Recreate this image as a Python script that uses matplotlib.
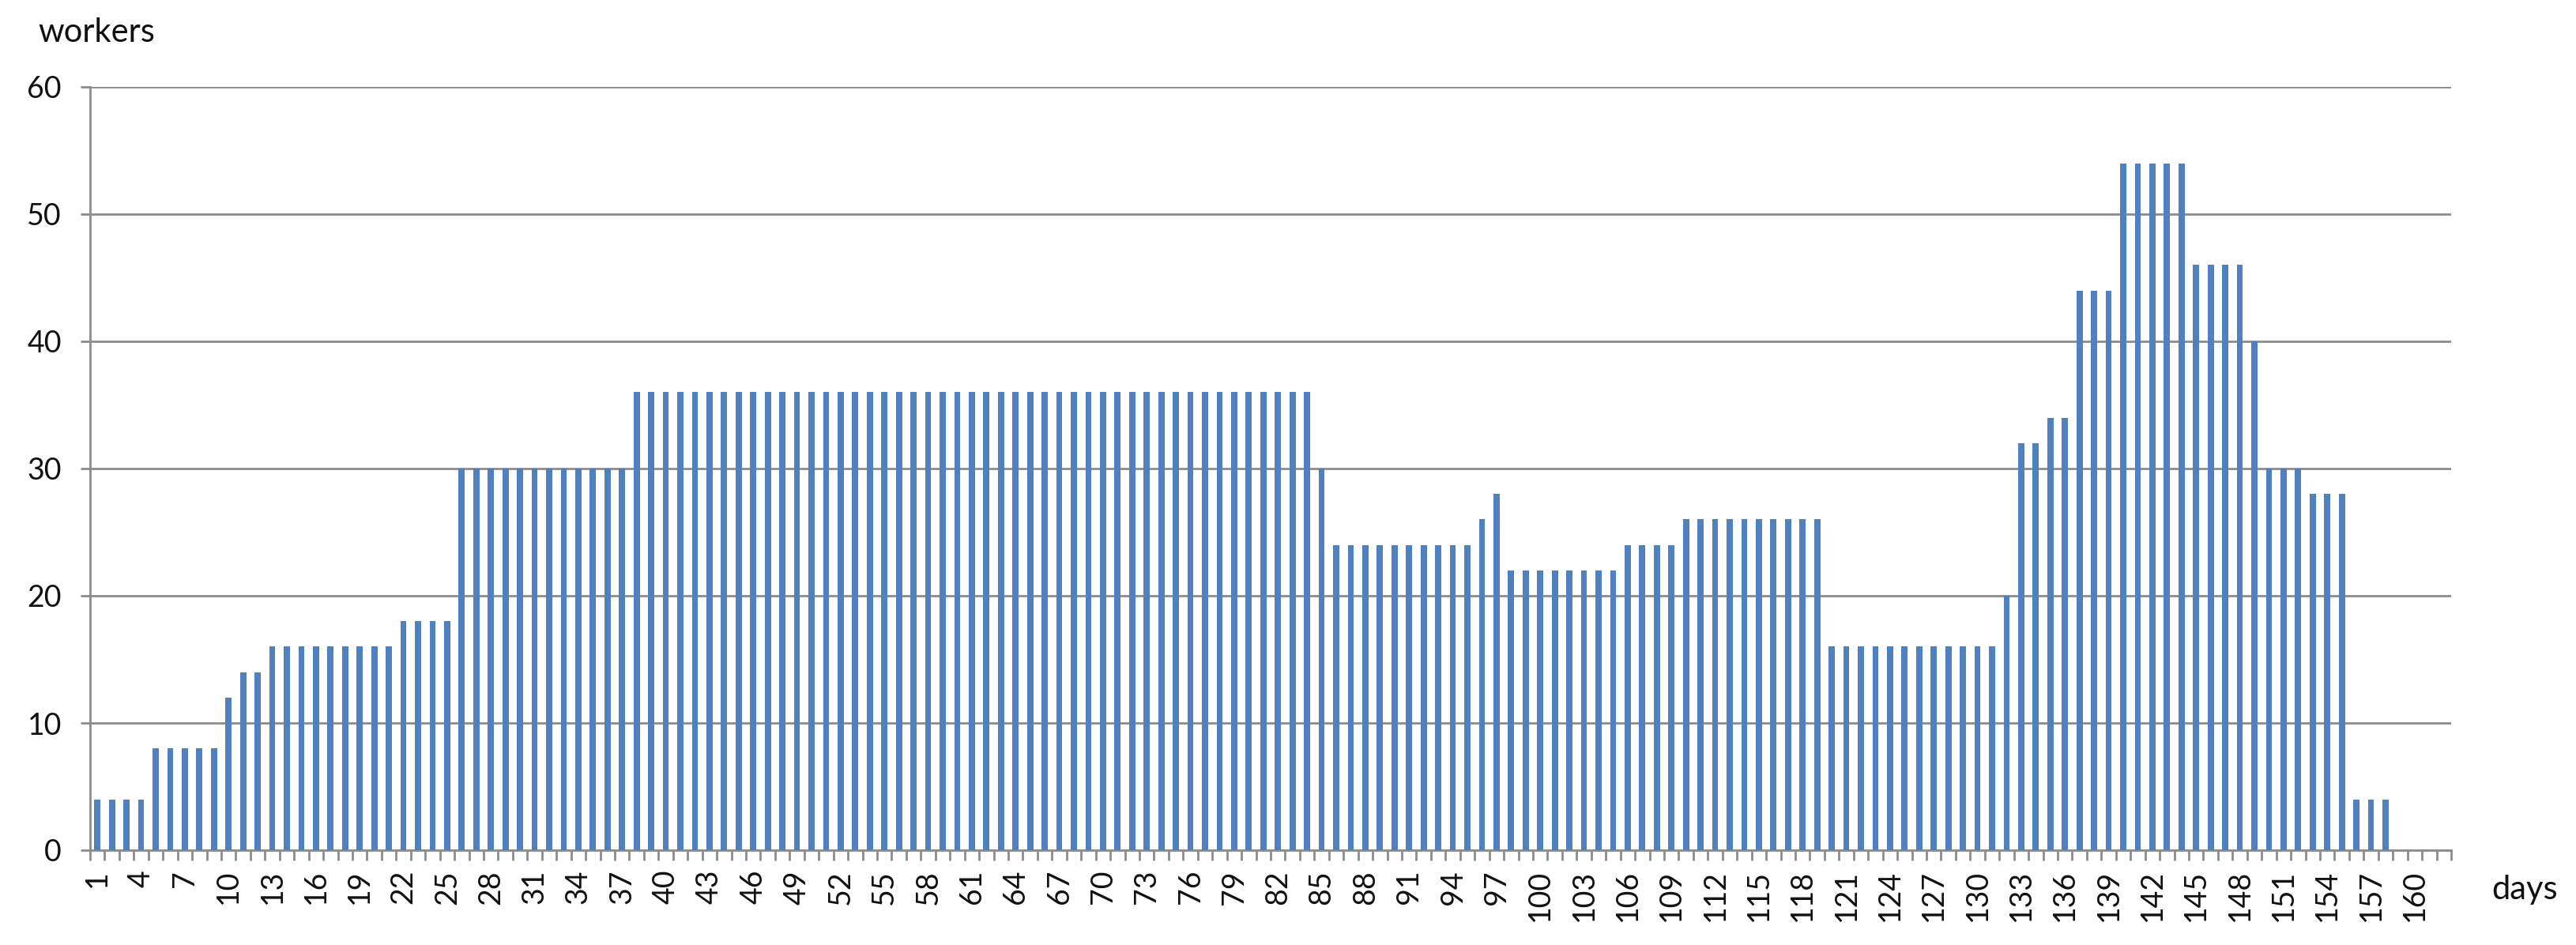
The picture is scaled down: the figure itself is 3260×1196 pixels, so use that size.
import matplotlib
matplotlib.use("Agg")
import matplotlib.pyplot as plt
import numpy as np

# ---- data ----
days = list(range(1, 163))
workers = ([4] * 4 + [8] * 5 + [12] + [14] * 2 + [16] * 9 + [18] * 4 +
           [30] * 12 + [36] * 47 + [30] + [24] * 10 + [26] + [28] +
           [22] * 8 + [24] * 4 + [26] * 10 + [16] * 12 + [20] +
           [32] * 2 + [34] * 2 + [44] * 3 + [54] * 5 + [46] * 4 + [40] +
           [30] * 3 + [28] * 3 + [4] * 3 + [0] * 4)
tick_days = list(range(1, 161, 3))
y_ticks = [0, 10, 20, 30, 40, 50, 60]

BAR = "#4F81BD"
GRID = "#8C8C8C"
FONT = "Lato"

plt.rcParams['font.family'] = [FONT, 'DejaVu Sans']

fig = plt.figure(figsize=(32.6, 11.96), dpi=100)
ax = fig.add_axes([114 / 3260, 1 - 1076 / 1196, (3102 - 114) / 3260, (1076 - 110) / 1196])

ax.bar(days, workers, width=0.42, color=BAR, zorder=3)

ax.set_xlim(0.5, len(days) + 0.5)
ax.set_ylim(0, 60)

ax.set_yticks(y_ticks)
ax.set_yticklabels([str(v) for v in y_ticks], fontsize=27, color="#111111")
ax.yaxis.grid(True, color=GRID, linewidth=2, zorder=0)
ax.tick_params(axis='y', length=9, width=2, color=GRID, pad=17, direction='out')

ax.set_xticks(tick_days)
ax.set_xticklabels([str(d) for d in tick_days], rotation=90, fontsize=27,
                   color="#111111")
ax.set_xticks(np.arange(0.5, len(days) + 1, 1), minor=True)
ax.tick_params(axis='x', which='major', length=0, pad=18)
ax.tick_params(axis='x', which='minor', length=9, width=2, color=GRID, direction='out')

for s in ['top', 'right']:
    ax.spines[s].set_visible(False)
for s in ['left', 'bottom']:
    ax.spines[s].set_color(GRID)
    ax.spines[s].set_linewidth(2)

fig.text(48 / 3260, 1 - 53 / 1196, "workers", fontsize=30, ha='left', va='baseline',
         color="#111111")
fig.text(3153 / 3260, 1 - 1138 / 1196, "days", fontsize=30, ha='left', va='baseline',
         color="#111111")

fig.savefig("out.png", dpi=100)
